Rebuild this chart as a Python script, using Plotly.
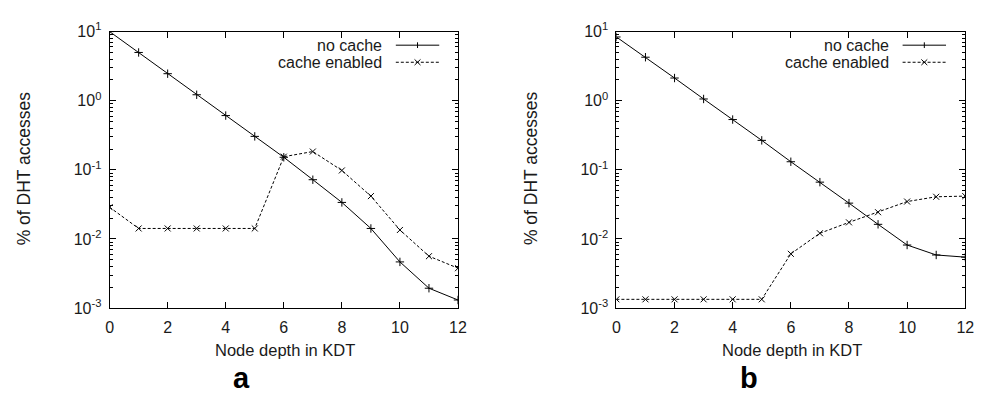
import plotly.graph_objects as go

depth = list(range(13))
a_nocache = [10, 4.99, 2.46, 1.22, 0.61, 0.305, 0.152, 0.072, 0.0338, 0.0142, 0.00466, 0.00194, 0.00131]
a_cache = [0.0288, 0.0142, 0.0142, 0.0142, 0.0142, 0.0142, 0.155, 0.184, 0.098, 0.0417, 0.0135, 0.00564, 0.00378]
b_nocache = [8.36, 4.26, 2.13, 1.06, 0.534, 0.267, 0.131, 0.0664, 0.033, 0.0163, 0.00818, 0.00587, 0.00546]
b_cache = [0.00134, 0.00134, 0.00134, 0.00134, 0.00134, 0.00134, 0.0061, 0.0121, 0.0174, 0.0244, 0.0348, 0.0408, 0.0417]

ytickvals = [0.001, 0.01, 0.1, 1, 10]
yticktext = ["10<sup>-3</sup>", "10<sup>-2</sup>", "10<sup>-1</sup>", "10<sup>0</sup>", "10<sup>1</sup>"]
xtickvals = [0, 2, 4, 6, 8, 10, 12]
series_names = ["no cache", "cache enabled"]
panel_labels = ["a", "b"]
xtitle = "Node depth in KDT"
ytitle = "% of DHT accesses"

W, H = 995, 394
FONT = "Liberation Sans, Arial, sans-serif"
TXT = "#1a1a1a"

minor_vals = [m * 10 ** e for e in range(-3, 1) for m in range(2, 10)]

fig = go.Figure()

panels = [
    dict(nc=a_nocache, ce=a_cache, xd=[107 / W, 460 / W], xa="x", ya="y"),
    dict(nc=b_nocache, ce=b_cache, xd=[620.5 / W, 974 / W], xa="x2", ya="y2"),
]
ydom = [1 - 313 / H, 1 - 21.7 / H]

for i, p in enumerate(panels):
    fig.add_trace(go.Scatter(
        x=depth, y=p["nc"], mode="lines+markers", name=series_names[0],
        line=dict(color="black", width=1),
        marker=dict(symbol="cross-thin-open", size=6, line=dict(color="black", width=1)),
        xaxis=p["xa"], yaxis=p["ya"], showlegend=False))
    fig.add_trace(go.Scatter(
        x=depth, y=p["ce"], mode="lines+markers", name=series_names[1],
        line=dict(color="black", width=1, dash="3px,2px"),
        marker=dict(symbol="x-thin-open", size=6, line=dict(color="black", width=1)),
        xaxis=p["xa"], yaxis=p["ya"], showlegend=False))

axis_common_x = dict(range=[0, 12], tickvals=xtickvals, ticks="inside", ticklen=6,
                     showline=True, linecolor="black", linewidth=1, mirror="ticks",
                     showgrid=False, zeroline=False, tickcolor="black",
                     tickfont=dict(family=FONT, size=16, color=TXT), ticklabelstandoff=5)
axis_common_y = dict(type="log", range=[-3, 1], tickvals=ytickvals, ticktext=yticktext,
                     ticks="inside", ticklen=6, tickcolor="black",
                     showline=True, linecolor="black", linewidth=1, mirror="ticks",
                     showgrid=False, zeroline=False,
                     minor=dict(tickvals=minor_vals, ticks="inside", ticklen=3, tickcolor="black"),
                     tickfont=dict(family=FONT, size=16, color=TXT), ticklabelstandoff=4)

fig.update_layout(
    width=W, height=H, margin=dict(l=0, r=0, t=0, b=0),
    paper_bgcolor="white", plot_bgcolor="white", showlegend=False,
    xaxis=dict(domain=panels[0]["xd"], anchor="y", **axis_common_x),
    yaxis=dict(domain=ydom, anchor="x", **axis_common_y),
    xaxis2=dict(domain=panels[1]["xd"], anchor="y2", **axis_common_x),
    yaxis2=dict(domain=ydom, anchor="x2", **axis_common_y),
)

annotations = []
shapes = []
for i, p in enumerate(panels):
    x0, x1 = p["xd"]
    xc = (x0 + x1) / 2
    annotations.append(dict(text=xtitle, x=xc + 1 / W, y=1 - 357 / H, xref="paper", yref="paper",
                            showarrow=False, xanchor="center", yanchor="middle",
                            font=dict(family=FONT, size=16.5, color=TXT)))
    annotations.append(dict(text=ytitle, x=x0 - 87 / W, y=1 - 166 / H, xref="paper", yref="paper",
                            showarrow=False, textangle=-90, xanchor="center", yanchor="middle",
                            font=dict(family=FONT, size=17.5, color=TXT)))
    annotations.append(dict(text="<b>" + panel_labels[i] + "</b>", x=x0 + 134 / W, y=1 - 387 / H,
                            xref="paper", yref="paper", showarrow=False,
                            xanchor="center", yanchor="middle",
                            font=dict(family=FONT, size=29, color="black")))
    text_right = x0 + 278 / W
    s0, s1 = x0 + 290 / W, x0 + 334 / W
    sm = (s0 + s1) / 2
    for j, (name, dash) in enumerate(zip(series_names, ["solid", "dash"])):
        yy = 1 - (36 + 18 * j) / H
        annotations.append(dict(text=name, x=text_right, y=yy, xref="paper", yref="paper",
                                showarrow=False, xanchor="right", yanchor="middle",
                                font=dict(family=FONT, size=16, color=TXT)))
        shapes.append(dict(type="line", xref="paper", yref="paper", x0=s0, x1=s1, y0=yy, y1=yy,
                           line=dict(color="black", width=1, dash="3px,2px" if dash == "dash" else "solid")))
        d = 3
        if j == 0:
            shapes.append(dict(type="line", xref="paper", yref="paper", x0=sm, x1=sm,
                               y0=yy - d / H, y1=yy + d / H, line=dict(color="black", width=1)))
        else:
            shapes.append(dict(type="line", xref="paper", yref="paper", x0=sm - d / W, x1=sm + d / W,
                               y0=yy - d / H, y1=yy + d / H, line=dict(color="black", width=1)))
            shapes.append(dict(type="line", xref="paper", yref="paper", x0=sm - d / W, x1=sm + d / W,
                               y0=yy + d / H, y1=yy - d / H, line=dict(color="black", width=1)))

fig.update_layout(annotations=annotations, shapes=shapes)
fig.write_html("out.html")
